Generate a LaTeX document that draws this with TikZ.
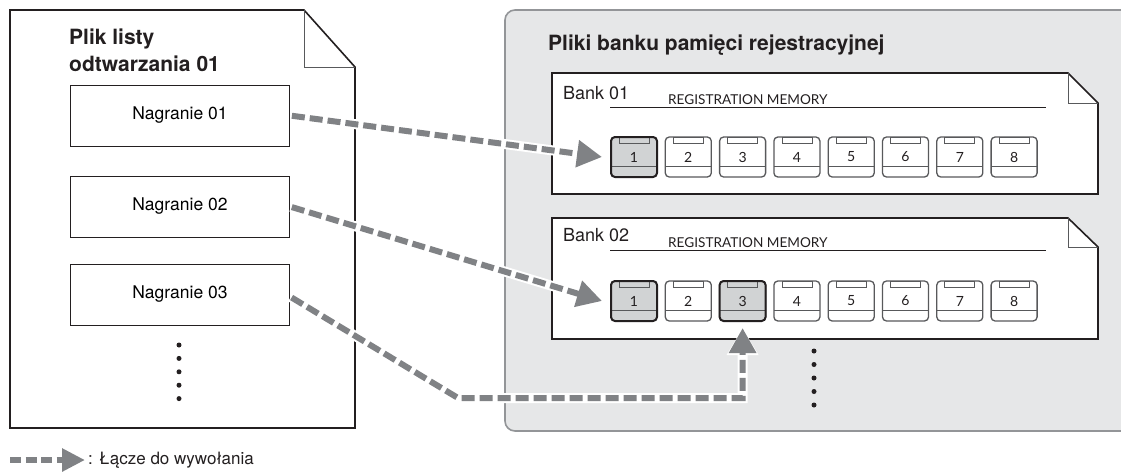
\documentclass[tikz,border=0pt]{standalone}
\usepackage{fontspec}
\setmainfont{TeX Gyre Heros}
\newfontfamily\regfont{Lato}
\usetikzlibrary{arrows.meta}
\definecolor{panelfill}{HTML}{E6E7E8}
\definecolor{panelline}{HTML}{939598}
\definecolor{arrowgray}{HTML}{808285}
\definecolor{selfill}{HTML}{D1D3D4}
\definecolor{btnline}{HTML}{58595B}
\definecolor{ink}{HTML}{231F20}
\tikzset{
  docline/.style={draw=ink, line width=1.6pt, line join=miter},
  foldline/.style={draw=btnline, line width=0.8pt},
  recbox/.style={draw=ink, line width=0.8pt, fill=white, minimum width=219pt, minimum height=61pt, inner sep=0pt, font=\fontsize{17.5}{20}\selectfont},
  banklabel/.style={anchor=base west, inner sep=0pt, font=\fontsize{18}{21}\selectfont, text=ink},
  reglabel/.style={anchor=base west, inner sep=0pt, font=\regfont\fontsize{13.6}{15}\selectfont, text=ink},
  btn/.style={draw=btnline, line width=1.3pt, fill=white, rounded corners=4pt, minimum width=46pt, minimum height=40pt, inner sep=0pt, font=\regfont\fontsize{14}{16}\selectfont, text=ink,
    path picture={
      \draw[btnline, line width=0.8pt, sharp corners] ([xshift=8pt,yshift=-0.5pt]path picture bounding box.north west) rectangle ([xshift=-8pt,yshift=-6.5pt]path picture bounding box.north east);
      \draw[btnline, line width=0.8pt, sharp corners] ([yshift=11pt]path picture bounding box.south west) -- ([yshift=11pt]path picture bounding box.south east);
    }},
  selbtn/.style={draw=ink, line width=2pt, fill=selfill},
  halo/.style={draw=white, line width=10pt, line join=miter},
  link/.style={draw=arrowgray, line width=6pt, dash pattern=on 13pt off 5pt, line join=miter, -{Triangle[length=25pt,width=26pt]}},
  dotmark/.style={circle, fill=ink, inner sep=0pt, minimum size=5pt},
}
\begin{document}
\begin{tikzpicture}[x=1pt,y=-1pt]
\useasboundingbox (0,0) rectangle (1121,472);
% gray panel
\begin{scope}
\clip (0,0) rectangle (1121,472);
\draw[draw=panelline, fill=panelfill, line width=1.6pt, rounded corners=10pt] (1130,10) -- (505,10) -- (505,431) -- (1130,431);
\end{scope}
\node[anchor=base west, inner sep=0pt, font=\bfseries\fontsize{21}{24}\selectfont, text=ink] (btitle) at (548,50) {Pliki banku pamięci rejestracyjnej};

% left document
\draw[docline, fill=white] (10,10) -- (304,10) -- (355,67) -- (355,428) -- (10,428) -- cycle;
\draw[foldline] (304,10) -- (304,67) -- (355,67);
\node[anchor=north west, inner sep=0pt, align=left, font=\bfseries\fontsize{21}{27}\selectfont, text=ink] (ltitle) at (69,28.5) {Plik listy\\odtwarzania 01};
\node[recbox] (n1) at (180,115.5) {Nagranie 01};
\node[recbox] (n2) at (180,206.5) {Nagranie 02};
\node[recbox] (n3) at (180,294.5) {Nagranie 03};
\foreach \k in {0,...,4} \node[dotmark] (ld\k) at (179,{345+\k*13.4}) {};

% bank 01
\draw[docline, fill=white] (552,73) -- (1068,73) -- (1098,103) -- (1098,194) -- (552,194) -- cycle;
\draw[foldline] (1068,73) -- (1068,103) -- (1098,103);
\node[banklabel] (bk1) at (563,99) {Bank 01};
\node[reglabel] (rm1) at (668,104.5) {REGISTRATION MEMORY};
\draw[ink, line width=0.8pt] (610,107) -- (1046,107);
\foreach \i in {1,...,8} \node[btn] (a\i) at ({634+(\i-1)*54.3},157) {\i};
\node[btn, selbtn] (a1) at (634,157) {1};

% bank 02
\draw[docline, fill=white] (552,218) -- (1068,218) -- (1098,247) -- (1098,339) -- (552,339) -- cycle;
\draw[foldline] (1068,218) -- (1068,247) -- (1098,247);
\node[banklabel] (bk2) at (563,241) {Bank 02};
\node[reglabel] (rm2) at (668,247.5) {REGISTRATION MEMORY};
\draw[ink, line width=0.8pt] (610,250) -- (1046,250);
\foreach \i in {1,...,8} \node[btn] (b\i) at ({634+(\i-1)*54.3},301) {\i};
\node[btn, selbtn] (b1) at (634,301) {1};
\node[btn, selbtn] (b3) at ({634+2*54.3},301) {3};
\foreach \k in {0,...,4} \node[dotmark] (rd\k) at (814,{351+\k*13.5}) {};

% links
\coordinate (turn) at (458,398);
\draw[halo, -{Triangle[length=27pt,width=30pt]}, shorten <=1pt] (n1.east) -- ([xshift=-8pt]a1.west);
\draw[link, shorten <=2pt] (n1.east) -- ([xshift=-8pt]a1.west);
\draw[halo, -{Triangle[length=27pt,width=30pt]}, shorten <=1pt] (n2.east) -- ([xshift=-8pt]b1.west);
\draw[link, shorten <=2pt] (n2.east) -- ([xshift=-8pt]b1.west);
\draw[halo, -{Triangle[length=27pt,width=30pt]}, shorten <=1pt] ([yshift=-2pt]n3.east) -- (turn) -| ([yshift=-6pt]b3.south);
\draw[link, shorten <=2pt] ([yshift=-2pt]n3.east) -- (turn) -| ([yshift=-6pt]b3.south);

% legend
\coordinate (lg0) at (10,460);
\node[anchor=west, inner sep=0pt, font=\fontsize{17}{20}\selectfont, text=ink] (lgtext) at (88,460) {: Łącze do wywołania};
\draw[link, dash pattern=on 11pt off 4.5pt, -{Triangle[length=23pt,width=22pt]}] (lg0) -- ([xshift=-3pt]lgtext.west);
\end{tikzpicture}
\end{document}
